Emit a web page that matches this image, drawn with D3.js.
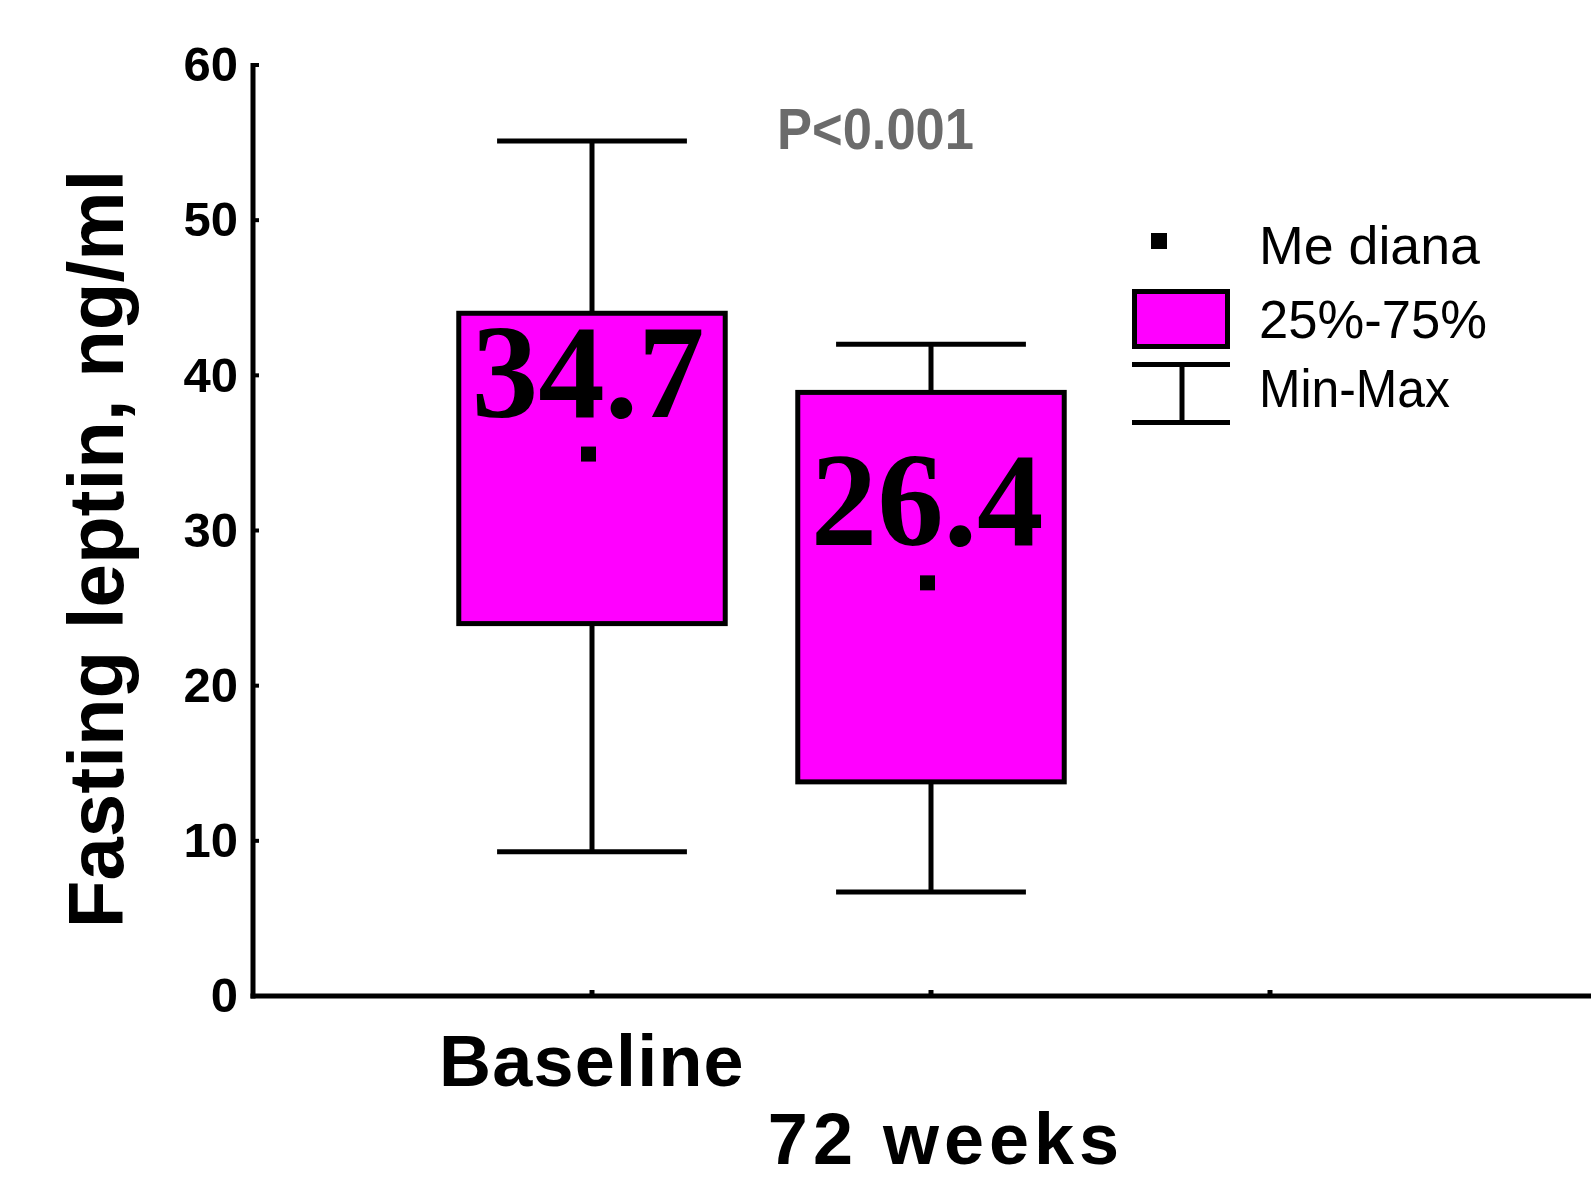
<!DOCTYPE html>
<html>
<head>
<meta charset="utf-8">
<script src="https://cdn.jsdelivr.net/npm/d3@7"></script>
<style>
  html, body { margin: 0; padding: 0; background: #fff; }
  svg { display: block; }
</style>
</head>
<body>
<svg id="chart" width="1591" height="1179"></svg>
<script>
// ---- data ----
const categories = ["Baseline", "72 weeks"];
const positions = [1, 2];
const medians = [34.7, 26.4];
const q1 = [24.0, 13.8];
const q3 = [44.0, 38.9];
const mins = [9.3, 6.7];
const maxs = [55.1, 42.0];
const medianLabels = ["34.7", "26.4"];
const yTicks = [0, 10, 20, 30, 40, 50, 60];
const xTicks = [1, 2, 3];
const legendLabels = ["Me diana", "25%-75%", "Min-Max"];
const pLabel = "P<0.001";
const yTitle = "Fasting leptin, ng/ml";

// ---- layout ----
const svg = d3.select("#chart");
const x = d3.scaleLinear().domain([0, 4]).range([253, 1609]);
const y = d3.scaleLinear().domain([0, 60]).range([996, 65]);
const MAGENTA = "#ff00ff";
const SW = 5;
const boxHalf = 0.393;
const capHalf = 0.28;

const data = categories.map((c, i) => ({
  cat: c, pos: positions[i], med: medians[i], q1: q1[i], q3: q3[i],
  min: mins[i], max: maxs[i], label: medianLabels[i]
}));

// axes
const yAxis = d3.axisLeft(y).tickValues(yTicks).tickSize(0).tickPadding(15)
  .tickFormat(d3.format("d"));
const gy = svg.append("g").attr("transform", `translate(${x(0)},0)`).call(yAxis);
gy.select(".domain").remove();
gy.selectAll("text")
  .attr("font-family", "Liberation Sans, Arial, sans-serif")
  .attr("font-weight", "bold").attr("font-size", 49).attr("fill", "#000");
// inward tick stubs
svg.append("g").selectAll("line").data(yTicks).join("line")
  .attr("x1", x(0)).attr("x2", x(0) + 6)
  .attr("y1", d => y(d)).attr("y2", d => y(d))
  .attr("stroke", "#000").attr("stroke-width", 4);
svg.append("g").selectAll("line").data(xTicks).join("line")
  .attr("x1", d => x(d)).attr("x2", d => x(d))
  .attr("y1", y(0)).attr("y2", y(0) - 6)
  .attr("stroke", "#000").attr("stroke-width", 5);
// axis lines
svg.append("line").attr("x1", x(0)).attr("x2", x(0))
  .attr("y1", y(60) - 2).attr("y2", y(0) + 2.5)
  .attr("stroke", "#000").attr("stroke-width", SW);
svg.append("line").attr("x1", x(0) - 2.5).attr("x2", x(4))
  .attr("y1", y(0)).attr("y2", y(0))
  .attr("stroke", "#000").attr("stroke-width", SW);

// category labels
svg.append("text").text(categories[0])
  .attr("x", x(positions[0])).attr("y", 1086)
  .attr("text-anchor", "middle")
  .attr("letter-spacing", 1.2)
  .attr("font-family", "Liberation Sans, Arial, sans-serif")
  .attr("font-weight", "bold").attr("font-size", 72);
svg.append("text").text(categories[1])
  .attr("x", x(positions[1]) + 15).attr("y", 1164)
  .attr("text-anchor", "middle")
  .attr("letter-spacing", 5)
  .attr("font-family", "Liberation Sans, Arial, sans-serif")
  .attr("font-weight", "bold").attr("font-size", 72);

// y title
svg.append("text").text(yTitle)
  .attr("transform", `translate(123,549) rotate(-90)`)
  .attr("text-anchor", "middle")
  .attr("font-family", "Liberation Sans, Arial, sans-serif")
  .attr("font-weight", "bold").attr("font-size", 78);

// boxes
const g = svg.append("g");
g.selectAll(".whisk").data(data).join("line")
  .attr("x1", d => x(d.pos)).attr("x2", d => x(d.pos))
  .attr("y1", d => y(d.max)).attr("y2", d => y(d.min))
  .attr("stroke", "#000").attr("stroke-width", SW);
g.selectAll(".capT").data(data).join("line")
  .attr("x1", d => x(d.pos - capHalf)).attr("x2", d => x(d.pos + capHalf))
  .attr("y1", d => y(d.max)).attr("y2", d => y(d.max))
  .attr("stroke", "#000").attr("stroke-width", SW);
g.selectAll(".capB").data(data).join("line")
  .attr("x1", d => x(d.pos - capHalf)).attr("x2", d => x(d.pos + capHalf))
  .attr("y1", d => y(d.min)).attr("y2", d => y(d.min))
  .attr("stroke", "#000").attr("stroke-width", SW);
g.selectAll(".box").data(data).join("rect")
  .attr("x", d => x(d.pos - boxHalf)).attr("width", d => x(d.pos + boxHalf) - x(d.pos - boxHalf))
  .attr("y", d => y(d.q3)).attr("height", d => y(d.q1) - y(d.q3))
  .attr("fill", MAGENTA).attr("stroke", "#000").attr("stroke-width", SW);
g.selectAll(".med").data(data).join("rect")
  .attr("x", d => x(d.pos) - 3.5 - 7.5).attr("y", d => y(d.med) - 3.5 - 7.5)
  .attr("width", 15).attr("height", 15).attr("fill", "#000");
g.selectAll(".medlab").data(data).join("text")
  .text(d => d.label)
  .attr("x", d => x(d.pos) - 4).attr("y", d => y(d.med) - 41)
  .attr("text-anchor", "middle")
  .attr("font-family", "Liberation Serif, Times New Roman, serif")
  .attr("font-weight", "bold").attr("font-size", 133).attr("fill", "#000");

// p-value
svg.append("text").text(pLabel)
  .attr("x", 777).attr("y", 149)
  .attr("font-family", "Liberation Sans, Arial, sans-serif")
  .attr("font-weight", "bold").attr("font-size", 57)
  .attr("textLength", 197).attr("lengthAdjust", "spacingAndGlyphs")
  .attr("fill", "#6b6b6b");

// legend
const lg = svg.append("g");
lg.append("rect").attr("x", 1151).attr("y", 233).attr("width", 16).attr("height", 16).attr("fill", "#000");
lg.append("rect").attr("x", 1134.5).attr("y", 291.5).attr("width", 93).attr("height", 55)
  .attr("fill", MAGENTA).attr("stroke", "#000").attr("stroke-width", SW);
lg.append("line").attr("x1", 1132).attr("x2", 1230).attr("y1", 364.5).attr("y2", 364.5)
  .attr("stroke", "#000").attr("stroke-width", SW);
lg.append("line").attr("x1", 1132).attr("x2", 1230).attr("y1", 422.5).attr("y2", 422.5)
  .attr("stroke", "#000").attr("stroke-width", SW);
lg.append("line").attr("x1", 1182).attr("x2", 1182).attr("y1", 364.5).attr("y2", 422.5)
  .attr("stroke", "#000").attr("stroke-width", SW);
const legY = [264, 338, 407];
const legW = [221, 228, 191];
lg.selectAll(".lt").data(legendLabels).join("text")
  .text(d => d)
  .attr("x", 1259).attr("y", (d, i) => legY[i])
  .attr("textLength", (d, i) => legW[i]).attr("lengthAdjust", "spacingAndGlyphs")
  .attr("font-family", "Liberation Sans, Arial, sans-serif")
  .attr("font-size", 54).attr("fill", "#000");
</script>
</body>
</html>
